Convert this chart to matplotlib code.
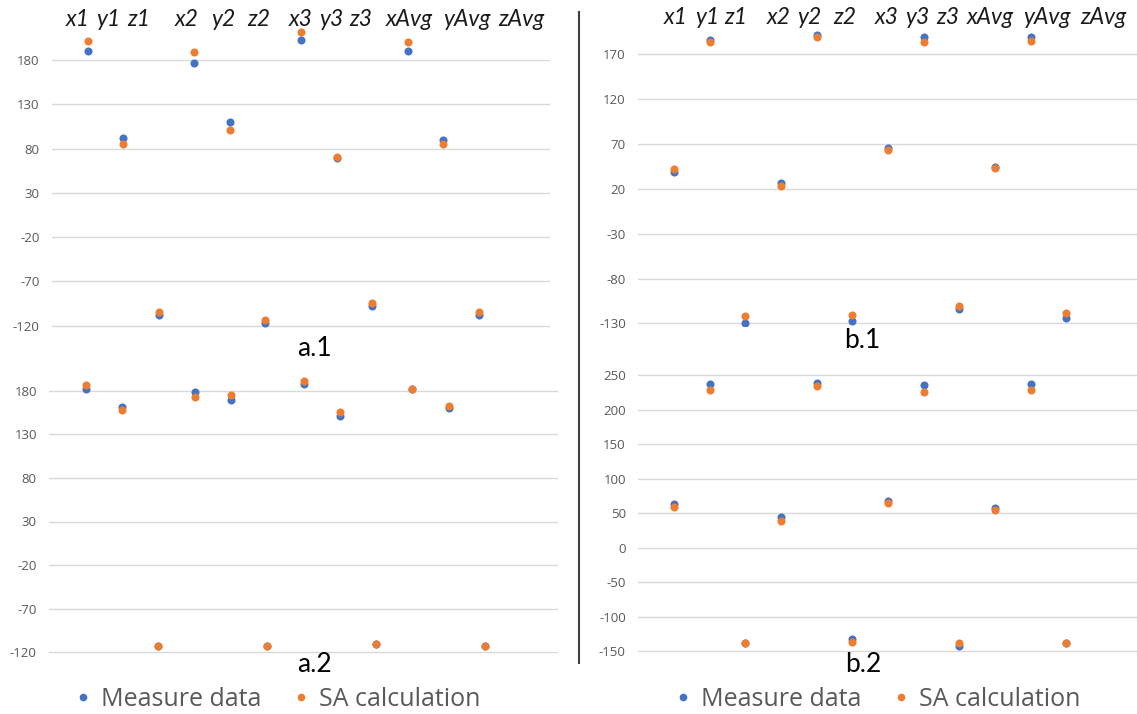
import numpy as np
import matplotlib
matplotlib.use("Agg")
from matplotlib import pyplot as plt
from matplotlib.lines import Line2D

# categories along each panel
categories = ["x1", "y1", "z1", "x2", "y2", "z2", "x3", "y3", "z3", "xAvg", "yAvg", "zAvg"]

# panel a.1
a1_measure = [190, 92, -108, 177, 110, -117, 203, 69, -98, 190, 90, -108]
a1_sa = [201, 85, -105, 189, 101, -114, 212, 71, -94, 200, 85, -105]
# panel a.2
a2_measure = [182, 161, -113, 178.5, 169, -113, 188, 150.5, -111, 182, 160, -113]
a2_sa = [187, 158, -113, 173, 174.5, -113, 191, 156, -111, 182, 163, -113]
# panel b.1
b1_measure = [39, 186, -129, 27, 192, -127, 66, 189, -114, 44, 189, -124]
b1_sa = [42, 184, -122, 23, 189, -120, 64, 184, -110, 43, 185, -118]
# panel b.2
b2_measure = [63, 237, -138, 44, 239, -133, 68, 235, -142, 57, 237, -138]
b2_sa = [59, 228, -138, 39, 234, -137, 64, 225, -137.5, 54, 228, -138]

a_ticks = list(range(-120, 181, 50))
b1_ticks = list(range(-130, 171, 50))
b2_ticks = list(range(-150, 251, 50))

series_names = ["Measure data", "SA calculation"]
BLUE = "#4472C4"
ORANGE = "#ED7D31"

W, H = 1137, 714
plt.rcParams["axes.unicode_minus"] = False
fig = plt.figure(figsize=(W / 100, H / 100), dpi=100)
fig.patch.set_facecolor("white")


def make_axes(x_left, x_right, ref_val, ref_px, px_per_unit, lo, hi):
    """Place an axes so that ref_val sits at pixel row ref_px."""
    top = ref_px - (hi - ref_val) * px_per_unit
    bottom = ref_px + (ref_val - lo) * px_per_unit
    ax = fig.add_axes([x_left / W, 1 - bottom / H, (x_right - x_left) / W, (bottom - top) / H])
    ax.set_ylim(lo, hi)
    return ax


def draw_panel(ax, measure, sa, ticks):
    x = np.arange(1, len(categories) + 1)
    ax.plot(x, measure, "o", color=BLUE, markersize=5.8, markeredgewidth=0, zorder=3)
    ax.plot(x, sa, "o", color=ORANGE, markersize=5.8, markeredgewidth=0, zorder=4)
    ax.set_xlim(0, 14)
    ax.set_yticks(ticks)
    ax.set_yticklabels([str(t) for t in ticks], fontfamily="Open Sans", fontsize=9.5, color="#595959")
    ax.set_xticks([])
    ax.tick_params(axis="y", length=0, pad=9)
    ax.grid(axis="y", color="#D9D9D9", linewidth=1.0)
    ax.set_axisbelow(True)
    for s in ax.spines.values():
        s.set_visible(False)
    ax.patch.set_alpha(0)


ax_a1 = make_axes(52, 550, -120, 325.7, 0.8857, -123, 222)
draw_panel(ax_a1, a1_measure, a1_sa, a_ticks)
ax_a2 = make_axes(49.3, 557.7, -120, 652.3, 0.872, -123, 200)
draw_panel(ax_a2, a2_measure, a2_sa, a_ticks)
ax_b1 = make_axes(638.3, 1137.7, -130, 323.5, 0.8967, -133, 205)
draw_panel(ax_b1, b1_measure, b1_sa, b1_ticks)
ax_b2 = make_axes(638.3, 1137.7, -150, 651.2, 0.6905, -154, 265)
draw_panel(ax_b2, b2_measure, b2_sa, b2_ticks)

# column headers above each side
a_head_x = [78, 108, 138.5, 186.5, 223.5, 259, 300.5, 331, 360.5, 409, 467, 521.5]
b_head_x = [676, 707, 736, 779, 809.5, 845, 887, 917.5, 948, 990.5, 1047, 1103]
for cx, lab in zip(a_head_x, categories):
    fig.text(cx / W, 1 - 20 / H, lab, ha="center", va="center", fontsize=16.5,
             fontstyle="italic", fontfamily="Lato", color="#1a1a1a")
for cx, lab in zip(b_head_x, categories):
    fig.text(cx / W, 1 - 17 / H, lab, ha="center", va="center", fontsize=16.5,
             fontstyle="italic", fontfamily="Lato", color="#1a1a1a")

# panel names
for name, px, py in [("a.1", 314, 348), ("a.2", 314, 664), ("b.1", 862, 340), ("b.2", 863, 664)]:
    fig.text(px / W, 1 - py / H, name, ha="center", va="center", fontsize=19,
             fontfamily="Lato", color="black")

# divider between the two halves
fig.add_artist(Line2D([579 / W, 579 / W], [1 - 12 / H, 1 - 663 / H], color="#404040",
                      linewidth=1.5, transform=fig.transFigure))

# legends
handles = [Line2D([], [], linestyle="none", marker="o", color=c, markersize=5.5, markeredgewidth=0)
           for c in (BLUE, ORANGE)]
for lx in (75.2, 675.5):
    fig.legend(handles, series_names, loc="center left", bbox_to_anchor=(lx / W, 1 - 699 / H),
               ncol=2, frameon=False, borderpad=0, borderaxespad=0, handlelength=0.6,
               handletextpad=0.42, columnspacing=1.28,
               prop={"family": "Open Sans", "size": 18}, labelcolor="#595959")

fig.savefig("out.png", dpi=100)
